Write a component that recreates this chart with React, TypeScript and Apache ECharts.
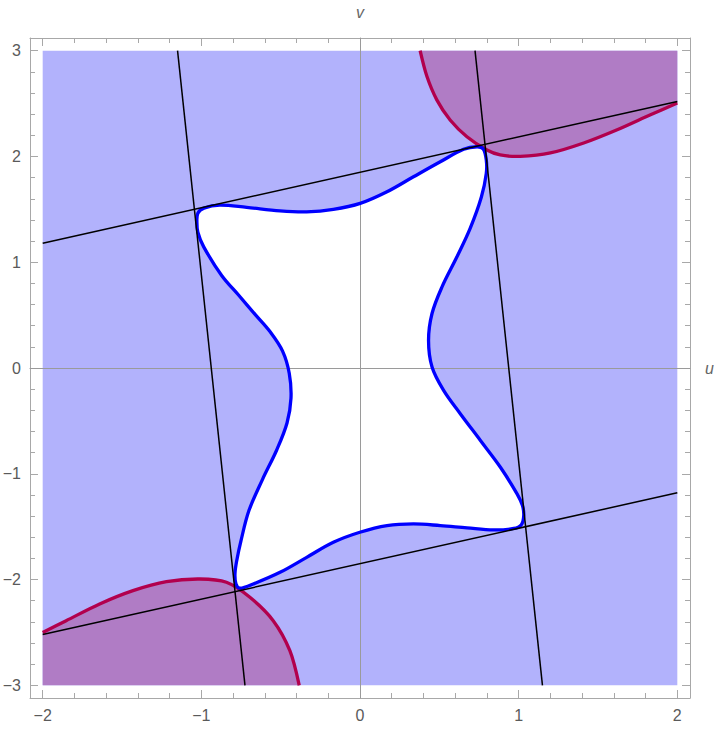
import { useEffect, useRef } from "react";
import * as echarts from "echarts";

// Axis ranges (with Mathematica-style padding) and tick values
const U_RANGE = [-2.08, 2.08];
const V_RANGE = [-3.12, 3.12];
const U_MAJOR = [-2, -1, 0, 1, 2];
const U_MINOR = [-1.8, -1.6, -1.4, -1.2, -0.8, -0.6, -0.4, -0.2, 0.2, 0.4, 0.6, 0.8, 1.2, 1.4, 1.6, 1.8];
const V_MAJOR = [-3, -2, -1, 0, 1, 2, 3];
const V_MINOR = [
  -2.8, -2.6, -2.4, -2.2, -1.8, -1.6, -1.4, -1.2, -0.8, -0.6, -0.4, -0.2,
  0.2, 0.4, 0.6, 0.8, 1.2, 1.4, 1.6, 1.8, 2.2, 2.4, 2.6, 2.8,
];

// Plotted region (light blue)
const BOX: [number, number][] = [[-2, -3], [2, -3], [2, 3], [-2, 3]];

// Closed blue curve (boundary of the white region)
const BLUE_LOOP: [number, number][] = [
  [-1.028, 1.379], [-1.022, 1.464], [-0.984, 1.512], [-0.883, 1.540], [-0.714, 1.518],
  [-0.504, 1.486], [-0.336, 1.477], [-0.168, 1.500], [0.001, 1.556], [0.170, 1.666],
  [0.337, 1.808], [0.506, 1.950], [0.653, 2.068], [0.738, 2.092], [0.777, 2.071],
  [0.796, 1.966], [0.796, 1.840], [0.765, 1.616], [0.695, 1.322], [0.611, 1.051],
  [0.517, 0.767], [0.454, 0.515], [0.432, 0.262], [0.454, 0.009], [0.527, -0.212],
  [0.632, -0.432], [0.759, -0.685], [0.885, -0.938], [0.990, -1.190], [1.024, -1.301],
  [1.032, -1.395], [1.017, -1.481], [0.969, -1.517], [0.842, -1.531], [0.675, -1.512],
  [0.506, -1.490], [0.337, -1.474], [0.170, -1.490], [-0.001, -1.553], [-0.168, -1.648],
  [-0.336, -1.790], [-0.504, -1.932], [-0.673, -2.042], [-0.757, -2.082], [-0.782, -2.039],
  [-0.788, -1.945], [-0.777, -1.822], [-0.750, -1.632], [-0.700, -1.348], [-0.615, -1.055],
  [-0.525, -0.775], [-0.460, -0.520], [-0.435, -0.285], [-0.446, -0.050], [-0.488, 0.160],
  [-0.565, 0.340], [-0.660, 0.505], [-0.763, 0.685], [-0.872, 0.875], [-0.985, 1.145],
  [-1.022, 1.285],
];

// Crimson curves bounding the purple regions
const CRIMSON_TR: [number, number][] = [
  [0.379, 3.0], [0.421, 2.76], [0.484, 2.535], [0.568, 2.345], [0.674, 2.187],
  [0.8, 2.061], [0.884, 2.014], [1.01, 2.001], [1.2, 2.033], [1.41, 2.127],
  [1.621, 2.252], [1.831, 2.394], [2.0, 2.505],
];
const CRIMSON_BL: [number, number][] = [
  [-2.0, -2.5], [-1.852, -2.389], [-1.641, -2.231], [-1.431, -2.105], [-1.22, -2.02],
  [-1.01, -1.995], [-0.842, -2.026], [-0.694, -2.168], [-0.547, -2.389], [-0.442, -2.673],
  [-0.383, -3.0],
];
const CORNER_TR: [number, number] = [2, 3];
const CORNER_BL: [number, number] = [-2, -3];

// Black straight lines
const LINE_A: [number, number][] = [[-2, 1.18], [2, 2.52]];
const LINE_B: [number, number][] = [[-2, -2.52], [2, -1.18]];
const LINE_C: [number, number][] = [[-1.15, 3], [-0.725, -3]];
const LINE_D: [number, number][] = [[0.725, 3], [1.15, -3]];

const BLUE_FILL = "#b2b2fc";
const PURPLE_FILL = "#b07cc5";
const CRIMSON = "#b2004d";
const FRAME = "#a8a8a8";
const ORIGIN_AXIS = "#9a9a9a";
const FONT = "Liberation Sans";

const fmt = (v: number) => String(v).replace("-", "\u2212");

function polySeries(points: [number, number][], style: any, z: number, smooth: number) {
  return {
    type: "custom",
    xAxisIndex: 0,
    yAxisIndex: 0,
    z,
    silent: true,
    data: [[0, 0]],
    renderItem: (_p: any, api: any) => ({
      type: "polygon",
      shape: { points: points.map((p) => api.coord(p)), smooth },
      style,
    }),
  };
}

function polylineSeries(points: [number, number][], color: string, width: number, z: number, smooth: number) {
  return {
    type: "custom",
    xAxisIndex: 0,
    yAxisIndex: 0,
    z,
    silent: true,
    data: [[0, 0]],
    renderItem: (_p: any, api: any) => ({
      type: "polyline",
      shape: { points: points.map((p) => api.coord(p)), smooth },
      style: { fill: "none", stroke: color, lineWidth: width },
    }),
  };
}

function lineSeries(points: [number, number][]) {
  return {
    type: "line",
    xAxisIndex: 0,
    yAxisIndex: 0,
    z: 5,
    silent: true,
    showSymbol: false,
    symbol: "none",
    data: points,
    lineStyle: { color: "#000", width: 1.5 },
  };
}

const hidden = {
  splitLine: { show: false },
  axisLabel: { show: false },
};

function tickAxis(kind: "x" | "y", position: string, values: number[], length: number, withLine: boolean, withLabels: boolean) {
  const range = kind === "x" ? U_RANGE : V_RANGE;
  return {
    type: "value",
    position,
    min: range[0],
    max: range[1],
    z: 2,
    splitLine: { show: false },
    axisLine: { show: withLine, onZero: false, lineStyle: { color: FRAME, width: 1 } },
    axisTick: { show: true, inside: true, length, customValues: values, lineStyle: { color: FRAME, width: 1 } },
    axisLabel: withLabels
      ? {
          show: true,
          customValues: values,
          margin: 9,
          formatter: fmt,
          color: "#5a5a5a",
          fontSize: 16,
          fontFamily: FONT,
        }
      : { show: false },
  };
}

const option: any = {
  animation: false,
  backgroundColor: "#ffffff",
  grid: { left: 30, right: 30, top: 38, bottom: 34, outerBoundsMode: "none", containLabel: false },
  xAxis: [
    tickAxis("x", "bottom", U_MAJOR, 8, true, true),
    tickAxis("x", "bottom", U_MINOR, 5, false, false),
    tickAxis("x", "top", U_MAJOR, 8, true, false),
    tickAxis("x", "top", U_MINOR, 5, false, false),
    {
      type: "value",
      position: "bottom",
      min: U_RANGE[0],
      max: U_RANGE[1],
      z: 3,
      ...hidden,
      axisTick: { show: false },
      axisLine: { show: true, onZero: true, onZeroAxisIndex: 0, lineStyle: { color: ORIGIN_AXIS, width: 1 } },
      name: "u",
      nameLocation: "end",
      nameGap: 15,
      nameTextStyle: { fontStyle: "italic", color: "#666", fontSize: 16, fontFamily: FONT },
    },
  ],
  yAxis: [
    tickAxis("y", "left", V_MAJOR, 8, true, true),
    tickAxis("y", "left", V_MINOR, 5, false, false),
    tickAxis("y", "right", V_MAJOR, 8, true, false),
    tickAxis("y", "right", V_MINOR, 5, false, false),
    {
      type: "value",
      position: "left",
      min: V_RANGE[0],
      max: V_RANGE[1],
      z: 3,
      ...hidden,
      axisTick: { show: false },
      axisLine: { show: true, onZero: true, onZeroAxisIndex: 0, lineStyle: { color: ORIGIN_AXIS, width: 1 } },
      name: "v",
      nameLocation: "end",
      nameGap: 18,
      nameTextStyle: { fontStyle: "italic", color: "#666", fontSize: 16, fontFamily: FONT },
    },
  ],
  series: [
    polySeries(BOX, { fill: BLUE_FILL, stroke: "none" }, 1, 0),
    polySeries([...CRIMSON_TR, CORNER_TR], { fill: PURPLE_FILL, stroke: "none" }, 1, 0),
    polySeries([...CRIMSON_BL, CORNER_BL], { fill: PURPLE_FILL, stroke: "none" }, 1, 0),
    polySeries(BLUE_LOOP, { fill: "#ffffff", stroke: "none" }, 1, 0.35),
    polylineSeries(CRIMSON_TR, CRIMSON, 3.3, 4, 0.3),
    polylineSeries(CRIMSON_BL, CRIMSON, 3.3, 4, 0.3),
    polySeries(BLUE_LOOP, { fill: "none", stroke: "#0000ff", lineWidth: 3.3 }, 4, 0.35),
    lineSeries(LINE_A),
    lineSeries(LINE_B),
    lineSeries(LINE_C),
    lineSeries(LINE_D),
  ],
};

export default function App() {
  const ref = useRef<HTMLDivElement>(null);
  useEffect(() => {
    if (!ref.current) return;
    const chart = echarts.init(ref.current, null, { renderer: "svg" });
    chart.setOption(option);
    return () => chart.dispose();
  }, []);
  return (
    <div
      ref={ref}
      style={{ position: "fixed", left: 0, top: 0, width: 720, height: 732, background: "#fff" }}
    />
  );
}
